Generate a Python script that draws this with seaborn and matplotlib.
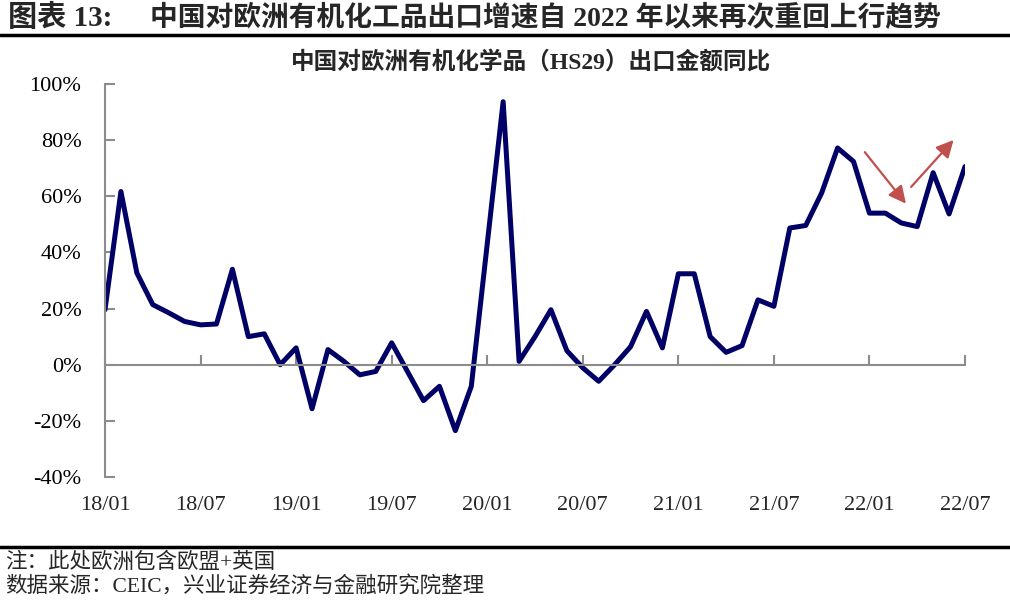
import matplotlib
matplotlib.use("Agg")
import matplotlib.pyplot as plt
from matplotlib.lines import Line2D
import seaborn as sns
import pandas as pd

# ---- data ----
months = [d.strftime("%y/%m") for d in pd.date_range("2018-01-01", "2022-07-01", freq="MS")]
yoy = [19.6, 61.7, 32.7, 21.4, 18.5, 15.4, 14.2, 14.5, 34.0, 10.0, 11.0, 0.0,
       6.0, -15.7, 5.4, 1.2, -3.6, -2.4, 7.8, -2.5, -12.8, -7.7, -23.5, -7.7,
       43.0, 93.7, 1.2, 10.0, 19.6, 5.0, -1.1, -5.9, 0.0, 6.4, 19.0, 6.0,
       32.4, 32.4, 10.0, 4.4, 6.8, 23.1, 20.8, 48.7, 49.6, 61.2, 77.2, 72.4,
       54.0, 54.0, 50.5, 49.2, 68.4, 53.7, 70.6]
tick_labels = ["18/01", "18/07", "19/01", "19/07", "20/01", "20/07",
               "21/01", "21/07", "22/01", "22/07"]
y_ticks = [-40, -20, 0, 20, 40, 60, 80, 100]

title_left = "图表 13:"
title_main = "中国对欧洲有机化工品出口增速自 2022 年以来再次重回上行趋势"
subtitle = "中国对欧洲有机化学品（HS29）出口金额同比"
note1 = "注：此处欧洲包含欧盟+英国"
note2 = "数据来源：CEIC，兴业证券经济与金融研究院整理"

df = pd.DataFrame({"month": months, "yoy": yoy})
df["idx"] = range(len(df))

sns.set_theme(style="white")
FAM = ["Liberation Serif", "Noto Sans CJK SC"]
plt.rcParams["font.family"] = FAM

W, H = 1010, 606
fig = plt.figure(figsize=(W / 100, H / 100), dpi=100)
ax = fig.add_axes([105 / W, 1 - 477 / H, (965 - 105) / W, (477 - 84) / H])

sns.lineplot(data=df, x="idx", y="yoy", ax=ax, color="#000066", linewidth=3.6)

gray = "#8c8c8c"
ax.set_xlim(0, len(df) - 1)
ax.set_ylim(-40, 100)
ax.set_yticks(y_ticks)
ax.set_yticklabels([f"{v}%" for v in y_ticks])
tick_pos = [months.index(t) for t in tick_labels]
ax.set_xticks(tick_pos)
ax.tick_params(axis="x", which="major", bottom=True, direction="in", length=7,
               color=gray, width=1.5, labelbottom=False)
ax.tick_params(axis="y", which="major", left=True, direction="in", length=7,
               color=gray, width=1.5, pad=17, labelsize=16, labelcolor="black")
for lab in ax.get_yticklabels():
    lab.set_family(FAM)
ax.spines["bottom"].set_position(("data", 0))
for s in ["top", "right"]:
    ax.spines[s].set_visible(False)
for s in ["left", "bottom"]:
    ax.spines[s].set_color(gray)
    ax.spines[s].set_linewidth(1.5)
ax.set_xlabel("")
ax.set_ylabel("")
ax.grid(False)

sec = ax.secondary_xaxis(0)
sec.set_xticks(tick_pos)
sec.set_xticklabels(tick_labels)
sec.tick_params(length=0, pad=14, labelsize=16)
sec.spines["bottom"].set_visible(False)
for lab in sec.get_xticklabels():
    lab.set_family(FAM)

# annotation arrows
red = "#C0504D"
ax.annotate("", xy=(50.4, 56.6), xytext=(47.6, 76.5),
            arrowprops=dict(arrowstyle="-|>", color=red, lw=1.6, mutation_scale=26))
ax.annotate("", xy=(53.4, 80.8), xytext=(50.5, 62.6),
            arrowprops=dict(arrowstyle="-|>", color=red, lw=1.6, mutation_scale=26))

# titles and notes
fig.text(8 / W, 1 - 18 / H, title_left, fontsize=21, weight="bold", va="center", family=FAM)
fig.text(150 / W, 1 - 18 / H, title_main, fontsize=20, weight="bold", va="center", family=FAM)
fig.add_artist(Line2D([0, 1], [1 - 35 / H] * 2, color="black", lw=2.5))
fig.text(531 / W, 1 - 62 / H, subtitle, fontsize=17, weight="bold", ha="center", va="center", family=FAM)
fig.add_artist(Line2D([0, 1], [1 - 547 / H] * 2, color="black", lw=2.5))
fig.text(5 / W, 1 - 563 / H, note1, fontsize=15.5, va="center", family=FAM)
fig.text(5 / W, 1 - 586 / H, note2, fontsize=15.5, va="center", family=FAM)

fig.savefig("out.png", dpi=100, facecolor="white")
